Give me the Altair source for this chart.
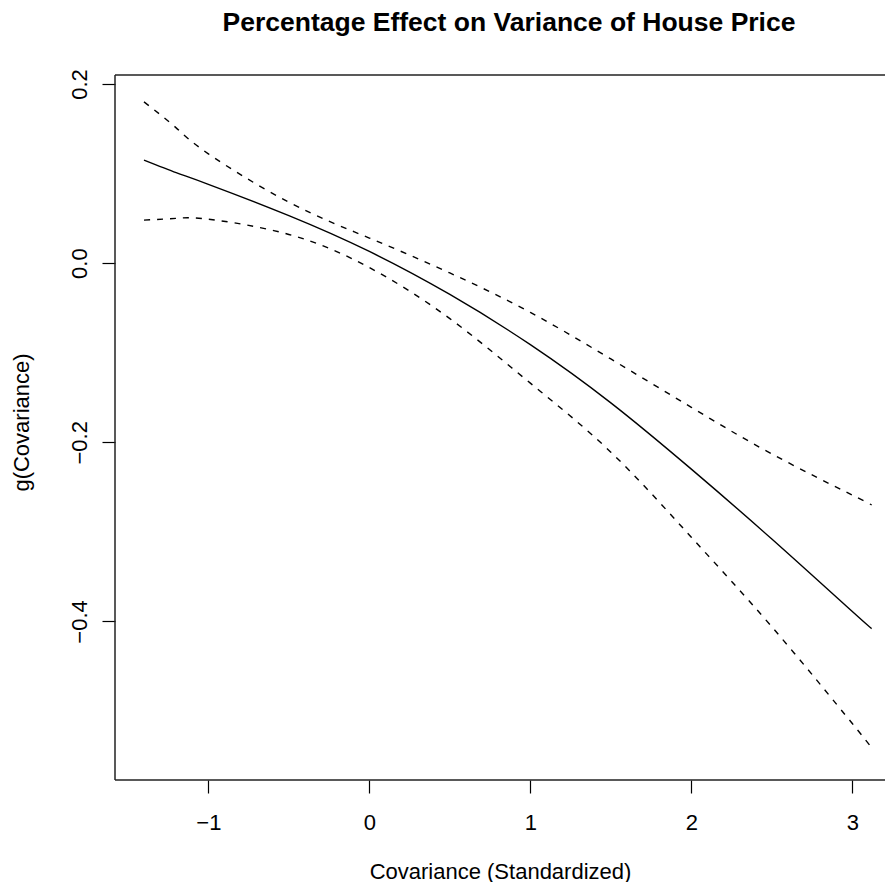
import altair as alt
import pandas as pd

x_vals = [-1.40, -1.20, -1.00, -0.50, 0.00, 0.50, 1.00, 1.50, 2.00, 2.50, 3.00, 3.12]
fit_vals = [0.115, 0.101, 0.088, 0.053, 0.013, -0.035, -0.091, -0.156, -0.230, -0.308, -0.389, -0.408]
upper_vals = [0.180, 0.151, 0.122, 0.068, 0.028, -0.011, -0.055, -0.107, -0.161, -0.213, -0.259, -0.270]
lower_vals = [0.048, 0.050, 0.049, 0.032, -0.005, -0.062, -0.134, -0.211, -0.306, -0.406, -0.514, -0.541]

x_ticks = [-1, 0, 1, 2, 3]
y_ticks = [-0.4, -0.2, 0.0, 0.2]

rows = []
for s, vals in [("fit", fit_vals), ("upper", upper_vals), ("lower", lower_vals)]:
    for xv, yv in zip(x_vals, vals):
        rows.append({"x": xv, "y": yv, "series": s})
df = pd.DataFrame(rows)

FONT = "Liberation Sans"
W, H = 770, 705

xscale = alt.Scale(domain=[-1.58, 3.203], nice=False, zero=False)
yscale = alt.Scale(domain=[-0.577, 0.210], nice=False, zero=False)

xaxis = alt.Axis(
    values=x_ticks, format="d", grid=False, domain=False,
    tickSize=13, tickColor="black", tickWidth=1.2,
    labelFontSize=22, labelFont=FONT, labelColor="black", labelPadding=19,
    title="Covariance (Standardized)", titleFont=FONT, titleFontSize=22,
    titleFontWeight="normal", titleColor="black", titleY=98, titleBaseline="alphabetic",
)
yaxis = alt.Axis(
    values=y_ticks, format=".1f", grid=False, domain=False,
    tickSize=13, tickColor="black", tickWidth=1.2,
    labelFontSize=22, labelFont=FONT, labelColor="black", labelPadding=11,
    labelAngle=270, labelAlign="center", labelBaseline="bottom",
    title="g(Covariance)", titleFont=FONT, titleFontSize=22,
    titleFontWeight="normal", titleColor="black", titleX=-94, titleY=347,
    titleBaseline="middle", titleAngle=270,
)

fit = alt.Chart(df).transform_filter(alt.datum.series == "fit").mark_line(
    color="black", strokeWidth=1.4, interpolate="natural"
).encode(
    x=alt.X("x:Q", scale=xscale, axis=xaxis),
    y=alt.Y("y:Q", scale=yscale, axis=yaxis),
)

bands = alt.Chart(df).transform_filter(alt.datum.series != "fit").mark_line(
    color="black", strokeWidth=1.4, strokeDash=[6, 7], interpolate="natural"
).encode(
    x=alt.X("x:Q", scale=xscale),
    y=alt.Y("y:Q", scale=yscale),
    detail="series:N",
)

one = pd.DataFrame({"k": [0]})
border_top = alt.Chart(one).mark_rule(color="#222222", strokeWidth=1.5).encode(
    x=alt.value(0), x2=alt.value(W), y=alt.value(0)
)
border_bottom = alt.Chart(one).mark_rule(color="#222222", strokeWidth=1.5).encode(
    x=alt.value(0), x2=alt.value(W), y=alt.value(H)
)
border_left = alt.Chart(one).mark_rule(color="#222222", strokeWidth=1.5).encode(
    x=alt.value(0), y=alt.value(0), y2=alt.value(H)
)

chart = alt.layer(fit, bands, border_top, border_bottom, border_left).properties(
    width=W,
    height=H,
    autosize=alt.AutoSizeParams(type="none"),
    padding={"left": 107, "top": 67, "right": 0, "bottom": 102},
    background="white",
    title=alt.TitleParams(
        "Percentage Effect on Variance of House Price",
        font=FONT, fontSize=26.5, fontWeight="bold", color="black",
        anchor="middle", offset=11, dx=9, baseline="alphabetic",
    ),
).configure_view(stroke=None)

chart.save("out.html", embed_options={"renderer": "svg", "actions": False})
